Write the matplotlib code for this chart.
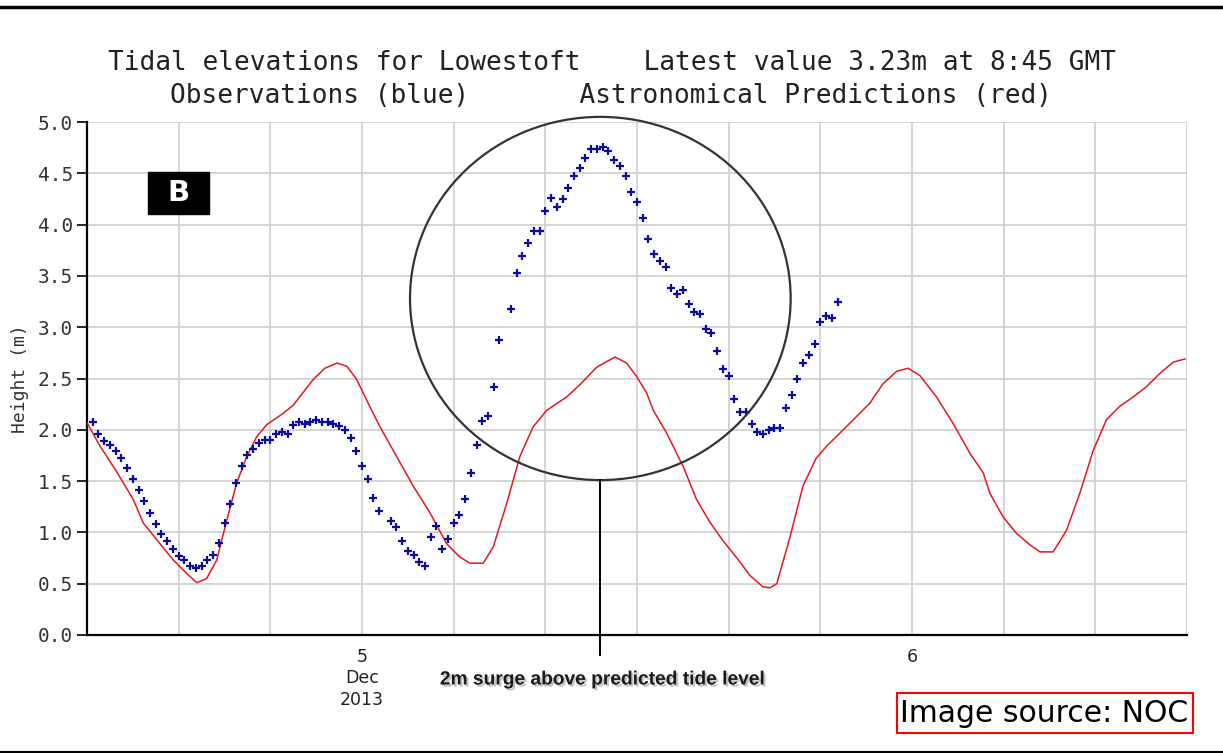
import numpy as np
import matplotlib
matplotlib.use("Agg")
import matplotlib.pyplot as plt
from matplotlib import font_manager
from matplotlib.patches import Ellipse, Rectangle
from matplotlib.lines import Line2D
import matplotlib.patheffects as pe

# hours after 4 Dec 2013 12:00
obs_start = 0.25          # first observation
obs_step = 0.25           # 15 minute sampling
obs_h = [2.08, 1.96, 1.89, 1.85, 1.79, 1.73, 1.63, 1.52, 1.41, 1.31,
         1.19, 1.08, 0.98, 0.92, 0.84, 0.77, 0.73, 0.67, 0.65, 0.67,
         0.73, 0.78, 0.90, 1.09, 1.28, 1.48, 1.65, 1.75, 1.81, 1.87,
         1.90, 1.90, 1.96, 1.98, 1.96, 2.05, 2.08, 2.06, 2.08, 2.10,
         2.08, 2.08, 2.06, 2.04, 2.00, 1.92, 1.79, 1.65, 1.52, 1.34,
         1.21, np.nan, 1.11, 1.05, 0.92, 0.82, 0.78, 0.71, 0.67, 0.96,
         1.06, 0.84, 0.94, 1.09, 1.17, 1.33, 1.58, 1.85, 2.09, 2.13,
         2.42, 2.88, np.nan, 3.18, 3.53, 3.69, 3.82, 3.94, 3.94, 4.13,
         4.26, 4.17, 4.25, 4.36, 4.47, 4.55, 4.65, 4.74, 4.74, 4.76,
         4.72, 4.63, 4.57, 4.47, 4.32, 4.22, 4.06, 3.86, 3.71, 3.65,
         3.59, 3.38, 3.32, 3.36, 3.23, 3.15, 3.13, 2.98, 2.94, 2.77,
         2.59, 2.52, 2.30, 2.17, 2.17, 2.06, 1.98, 1.96, 2.00, 2.02,
         2.02, 2.21, 2.34, 2.50, 2.65, 2.73, 2.84, 3.05, 3.11, 3.09,
         3.25]

pred_t = [0.00, 0.57, 1.30, 2.02, 2.46, 3.04, 3.77, 4.35, 4.79, 5.22,
          5.66, 6.10, 6.53, 6.97, 7.40, 7.84, 8.56, 9.00, 9.87, 10.38,
          10.91, 11.34, 11.77, 12.20, 12.78, 13.51, 14.24, 14.97, 15.69, 16.27,
          16.71, 17.29, 17.73, 18.31, 18.89, 19.47, 20.06, 20.93, 21.51, 22.24,
          23.04, 23.55, 23.98, 24.42, 24.71, 25.29, 26.02, 26.60, 27.18, 27.75,
          28.36, 28.93, 29.49, 29.80, 30.10, 30.67, 31.24, 31.81, 32.27, 33.00,
          34.16, 34.74, 35.33, 35.83, 36.34, 37.07, 37.80, 38.53, 39.11, 39.40,
          39.98, 40.56, 41.14, 41.58, 42.16, 42.74, 43.32, 43.91, 44.49, 45.07,
          45.65, 46.23, 46.82, 47.40, 47.91]
pred_h = [2.07, 1.84, 1.59, 1.32, 1.09, 0.93, 0.73, 0.60, 0.51, 0.55,
          0.73, 1.12, 1.48, 1.74, 1.93, 2.05, 2.16, 2.24, 2.49, 2.60,
          2.65, 2.62, 2.49, 2.29, 2.03, 1.74, 1.45, 1.19, 0.89, 0.76,
          0.70, 0.70, 0.86, 1.28, 1.74, 2.03, 2.19, 2.32, 2.44, 2.61,
          2.71, 2.65, 2.52, 2.36, 2.19, 1.97, 1.64, 1.32, 1.10, 0.92,
          0.75, 0.58, 0.47, 0.46, 0.50, 0.95, 1.45, 1.72, 1.84, 2.00,
          2.26, 2.45, 2.57, 2.60, 2.53, 2.32, 2.06, 1.77, 1.58, 1.38,
          1.15, 0.99, 0.88, 0.81, 0.81, 1.02, 1.38, 1.80, 2.10, 2.23,
          2.32, 2.42, 2.55, 2.66, 2.69]

day_ticks = [0, 24, 48]
day_label_pos = [12, 36]
day_labels = [["5", "Dec", "2013"], ["6"]]

obs_t = obs_start + obs_step * np.arange(len(obs_h))

W, H = 1223, 754
fig = plt.figure(figsize=(W / 100, H / 100), dpi=100)
ax = fig.add_axes([87 / W, 1 - 635 / H, 1100 / W, 513 / H])

ax.plot(pred_t, pred_h, color="#e3191f", lw=1.1, zorder=3)
ax.plot(obs_t, obs_h, "+", color="#0c0c9c", ms=5.5, mew=1.6, zorder=4)

ax.set_xlim(0, 48)
ax.set_ylim(0, 5)
ax.set_axisbelow(True)
ax.set_xticks(np.arange(0, 49, 4))
ax.set_xticklabels([])
ax.set_xticks(day_ticks, minor=True)
ax.tick_params(axis="x", which="major", length=0)
ax.tick_params(axis="x", which="minor", length=9, width=1.5, color="black")
ax.set_yticks(np.arange(0, 5.01, 0.5))
ax.set_yticklabels([f"{v:.1f}" for v in np.arange(0, 5.01, 0.5)],
                   family="DejaVu Sans Mono", fontsize=14, color="#333333")
ax.tick_params(axis="y", length=7, width=1.2, pad=3)
ax.grid(color="#d2d2d2", lw=1.3)
for s in ["top", "right"]:
    ax.spines[s].set_visible(False)
for s in ["left", "bottom"]:
    ax.spines[s].set_linewidth(1.6)
ax.set_ylabel("Height (m)", family="DejaVu Sans Mono", fontsize=13, color="#333333")
ax.yaxis.set_label_coords(-0.0605, 0.50)
ax.yaxis.label.set_va("center")

for x, lines in zip(day_label_pos, day_labels):
    for k, s in enumerate(lines):
        ax.annotate(s, (x, 0), xycoords=("data", "axes fraction"),
                    xytext=(0, -15.8 - 15.5 * k), textcoords="offset points",
                    ha="center", va="center", fontsize=12.5, color="#222222")

# circle around the surge and its pointer line
ecx, ecy, ew, eh = 22.40, 3.28, 16.61, 3.54
ax.add_patch(Ellipse((ecx, ecy), ew, eh, fill=False, ec="#333333", lw=1.6,
                     clip_on=False, zorder=5))
ax.plot([ecx, ecx], [ecy - eh / 2, -0.195], color="black", lw=1.4,
        clip_on=False, zorder=5)

names = {f.name for f in font_manager.fontManager.ttflist}
if "Liberation Sans Narrow" in names:
    sfam, ssize = "Liberation Sans Narrow", 16.5
else:
    sfam, ssize = "Liberation Sans", 13.8
fig.text(602 / W, 1 - 680 / H, "2m surge above predicted tide level",
         family=sfam, fontsize=ssize, fontweight="bold", color="#1a1a1a",
         ha="center", va="center",
         path_effects=[pe.withSimplePatchShadow(offset=(1.5, -1.5),
                                                shadow_rgbFace="#888888", alpha=0.5)])

fig.text(0.5, 1 - 63 / H,
         "Tidal elevations for Lowestoft    Latest value 3.23m at 8:45 GMT",
         family="DejaVu Sans Mono", fontsize=18.8, color="#222222",
         ha="center", va="center")
fig.text(0.5, 1 - 96 / H,
         "Observations (blue)       Astronomical Predictions (red)",
         family="DejaVu Sans Mono", fontsize=18.8, color="#222222",
         ha="center", va="center")

# panel letter
fig.add_artist(Rectangle((148 / W, 1 - 214 / H), 61 / W, 42 / H,
                         transform=fig.transFigure, color="black"))
fig.text(178.5 / W, 1 - 193 / H, "B", color="white", fontweight="bold",
         fontsize=21, ha="center", va="center")

# source box
fig.add_artist(Rectangle((897 / W, 1 - 733 / H), 296 / W, 40 / H,
                         transform=fig.transFigure, fill=False, ec="red", lw=1.5))
fig.text(900 / W, 1 - 713 / H, "Image source: NOC", fontsize=21.5,
         color="black", ha="left", va="center")

# page rules
fig.add_artist(Line2D([0, 1], [1 - 7 / H] * 2, transform=fig.transFigure,
                      color="black", lw=2.5))
fig.add_artist(Line2D([0, 1], [1 - 752 / H] * 2, transform=fig.transFigure,
                      color="black", lw=1.5))

fig.savefig("out.png", dpi=100)
